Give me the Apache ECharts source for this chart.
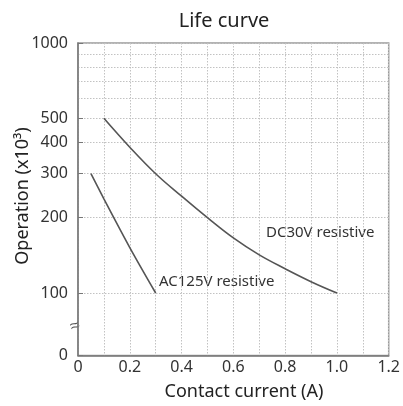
<!DOCTYPE html>
<html><head><meta charset="utf-8">
<script src="https://cdn.jsdelivr.net/npm/echarts@6/dist/echarts.min.js"></script>
<style>html,body{margin:0;padding:0;background:#fff}#c{width:403px;height:406px}</style>
</head><body><div id="c"></div>
<script>
// ---- data ----
const xTicks = [0, 0.2, 0.4, 0.6, 0.8, 1.0, 1.2];
const yTickLabels = [0, 100, 200, 300, 400, 500, 1000];
const yGridValues = [100, 200, 300, 400, 500, 600, 700, 800, 900, 1000];
const dcCurrent = [0.1, 0.2, 0.3, 0.4, 0.5, 0.6, 0.7, 0.8, 0.9, 1.0];
const dcOps = [500, 383, 300, 244, 200, 166, 142, 125, 111, 100];
const acCurrent = [0.05, 0.1, 0.2, 0.3];
const acOps = [300, 238, 152, 100];
const seriesNames = ['DC30V resistive', 'AC125V resistive'];

// broken log axis: "0" is drawn a quarter decade below 100
const AXIS_ZERO = 1.75;
const toY = v => v === 0 ? AXIS_ZERO : Math.log10(v);

const FONT = '"Noto Sans", sans-serif';
const GRID_LINE = {color: '#c2c2c2', type: [1.5, 1.5], width: 1};
const chart = echarts.init(document.getElementById('c'), null, {renderer: 'canvas'});
chart.setOption({
  animation: false,
  backgroundColor: '#fff',
  grid: {left: 78, right: 13, top: 43, bottom: 50.5, show: true, borderColor: '#9a9a9a', borderWidth: 1.5},
  xAxis: {
    type: 'value', min: xTicks[0], max: xTicks[xTicks.length - 1], interval: 0.2,
    axisLine: {show: true, lineStyle: {color: '#777', width: 1.5}},
    axisTick: {show: false},
    axisLabel: {margin: 4, fontSize: 16, color: '#333', fontFamily: FONT,
      formatter: v => v === 0 ? '0' : v.toFixed(1)},
    splitLine: {show: true, lineStyle: GRID_LINE},
    minorTick: {show: false, splitNumber: 2},
    minorSplitLine: {show: true, lineStyle: GRID_LINE}
  },
  yAxis: [{
    type: 'value', min: AXIS_ZERO, max: 3, position: 'left',
    axisLine: {show: true, lineStyle: {color: '#777', width: 1.5}},
    axisTick: {show: true, inside: true, length: 5, lineStyle: {color: '#777'}, customValues: yTickLabels.map(toY)},
    axisLabel: {margin: 10, fontSize: 16, color: '#333', fontFamily: FONT, customValues: yTickLabels.map(toY),
      formatter: v => Math.abs(v - AXIS_ZERO) < 1e-6 ? '0' : String(Math.round(Math.pow(10, v)))},
    splitLine: {show: false}
  }, {
    type: 'value', min: AXIS_ZERO, max: 3, position: 'left',
    axisLine: {show: false},
    axisTick: {show: false, customValues: yGridValues.map(toY)},
    axisLabel: {show: false, customValues: yGridValues.map(toY)},
    splitLine: {show: true, lineStyle: GRID_LINE}
  }],
  series: [{
    name: seriesNames[0], type: 'line', yAxisIndex: 0, smooth: 0.4, showSymbol: false, symbol: 'none',
    lineStyle: {color: '#555', width: 1.6},
    data: dcCurrent.map((x, i) => [x, toY(dcOps[i])])
  }, {
    name: seriesNames[1], type: 'line', yAxisIndex: 0, smooth: 0.3, showSymbol: false, symbol: 'none',
    lineStyle: {color: '#555', width: 1.6},
    data: acCurrent.map((x, i) => [x, toY(acOps[i])])
  }],
  graphic: [
    {type: 'text', x: 224, y: 21, style: {text: 'Life curve', fontSize: 20, fontFamily: FONT, fill: '#222', align: 'center', verticalAlign: 'middle'}},
    {type: 'text', x: 244, y: 392, style: {text: 'Contact current (A)', fontSize: 18, fontFamily: FONT, fill: '#222', align: 'center', verticalAlign: 'middle'}},
    {type: 'text', x: 23, y: 196, rotation: Math.PI / 2, style: {text: 'Operation (x10³)', fontSize: 18, fontFamily: FONT, fill: '#222', align: 'center', verticalAlign: 'middle'}},
    {type: 'text', x: 266, y: 233, style: {text: seriesNames[0], fontSize: 15, fontFamily: FONT, fill: '#333', align: 'left', verticalAlign: 'middle'}},
    {type: 'text', x: 159, y: 282, style: {text: seriesNames[1], fontSize: 15, fontFamily: FONT, fill: '#333', align: 'left', verticalAlign: 'middle'}},
    {type: 'text', x: 75, y: 326, rotation: 0.35, style: {text: '≈', fontSize: 17, fontFamily: FONT, fill: '#555', align: 'center', verticalAlign: 'middle'}}
  ]
});
</script></body></html>
